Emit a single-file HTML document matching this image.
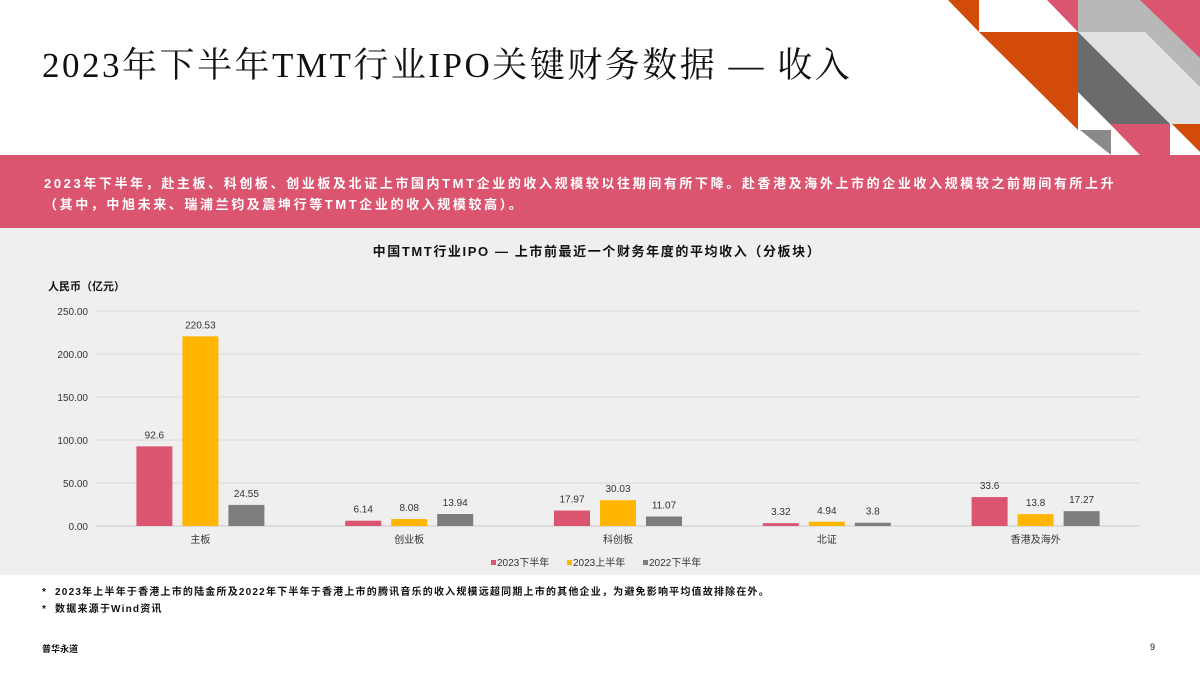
<!DOCTYPE html>
<html><head><meta charset="utf-8"><style>
body{margin:0;width:1200px;height:675px;overflow:hidden;background:#fff;font-family:"Liberation Sans","Noto Sans CJK SC",sans-serif;position:relative}
.abs{position:absolute}
</style></head><body>
<svg class="abs" style="left:0;top:0" width="1200" height="160">
<polygon points="948,0 979,0 979,32" fill="#d24b08"/>
<polygon points="979,32 1078,32 1078,130" fill="#d24b08"/>
<polygon points="1047,0 1078,0 1078,32" fill="#dc5570"/>
<polygon points="1078,0 1145,0 1200,55 1200,124 1170,124 1078,32" fill="#b8b8b8"/>
<polygon points="1078,32 1145,32 1200,87 1200,124 1170,124 1078,40" fill="#e2e2e2"/>
<polygon points="1078,32 1078,92 1110,124 1170,124" fill="#6b6b6b"/>
<polygon points="1140,0 1200,0 1200,58" fill="#dc5570"/>
<polygon points="1110,124 1170,124 1170,155 1140,155" fill="#dc5570"/>
<polygon points="1080,130 1111,130 1111,155" fill="#8a8a8a"/>
<polygon points="1172,124 1200,124 1200,152" fill="#d24b08"/>
</svg>
<div class="abs" style="left:42px;top:38px;font-size:35px;letter-spacing:2.5px;font-family:'Liberation Serif','Noto Serif CJK SC',serif;color:#111;white-space:nowrap">2023年下半年TMT行业IPO关键财务数据 — 收入</div>
<div class="abs" style="left:0;top:155px;width:1200px;height:73px;background:#dc5570;color:#fff;font-size:13px;font-weight:bold;letter-spacing:2.6px;line-height:21px;box-sizing:border-box;padding:18px 0 0 44px;white-space:nowrap">2023年下半年，赴主板、科创板、创业板及北证上市国内TMT企业的收入规模较以往期间有所下降。赴香港及海外上市的企业收入规模较之前期间有所上升<br>（其中，中旭未来、瑞浦兰钧及震坤行等TMT企业的收入规模较高）。</div>
<svg class="abs" style="left:0;top:228px" width="1200" height="347" id="chart"></svg>
<div class="abs" style="left:42px;top:584px;font-size:10px;font-weight:bold;letter-spacing:1.2px;line-height:17px;color:#111;white-space:nowrap">* &nbsp;2023年上半年于香港上市的陆金所及2022年下半年于香港上市的腾讯音乐的收入规模远超同期上市的其他企业，为避免影响平均值故排除在外。<br>* &nbsp;数据来源于Wind资讯</div>
<div class="abs" style="left:42px;top:642px;font-size:9px;font-weight:bold;color:#111">普华永道</div>
<div class="abs" style="left:1150px;top:642px;font-size:9px;color:#111">9</div>
<script>
const categories=["主板","创业板","科创板","北证","香港及海外"];
const seriesNames=["2023下半年","2023上半年","2022下半年"];
const s2023H2=[92.6,6.14,17.97,3.32,33.6];
const s2023H1=[220.53,8.08,30.03,4.94,13.8];
const s2022H2=[24.55,13.94,11.07,3.8,17.27];
const valueLabels=[["92.6","6.14","17.97","3.32","33.6"],["220.53","8.08","30.03","4.94","13.8"],["24.55","13.94","11.07","3.8","17.27"]];
const yTicks=[0,50,100,150,200,250];
const yTickLabels=["0.00","50.00","100.00","150.00","200.00","250.00"];
const colors=["#dc5570","#ffb600","#7d7d7d"];
const NS="http://www.w3.org/2000/svg";
const svg=document.getElementById('chart');
const x0=96,x1=1140,yBase=298,yTop=83,maxV=250;
const y=v=>yBase-(v/maxV)*(yBase-yTop);
const band=(x1-x0)/categories.length;
const xc=i=>x0+band*(i+0.5);
function mk(t,a,txt){const e=document.createElementNS(NS,t);for(const k in a)e.setAttribute(k,a[k]);if(txt!=null)e.textContent=txt;svg.appendChild(e);return e;}
let e=mk('rect',{x:0,y:0,width:1200,height:347,fill:'#efefef'});

e=mk('text',{x:597,y:28,'text-anchor':'middle','font-size':13,'font-weight':'bold','letter-spacing':'1.6',fill:'#111'},'中国TMT行业IPO — 上市前最近一个财务年度的平均收入（分板块）');

e=mk('text',{x:48,y:62,'font-size':11,'font-weight':'bold',fill:'#111'},'人民币（亿元）');

yTicks.forEach((t,i)=>{
 e=mk('line',{x1:x0,x2:x1,y1:y(t),y2:y(t),stroke:i==0?'#c8c8c8':'#dadada','stroke-width':1});
 
 e=mk('text',{x:88,y:y(t)+4,'text-anchor':'end','font-size':10,fill:'#333'},yTickLabels[i]);
 
});
const series=[s2023H2,s2023H1,s2022H2];
categories.forEach((c,i)=>{
 series.forEach((s,j)=>{
  const cx=xc(i)+(j-1)*46;
  e=mk('rect',{x:cx-18,y:y(s[i]),width:36,height:yBase-y(s[i]),fill:colors[j]});
  
  e=mk('text',{x:cx,y:y(s[i])-8,'text-anchor':'middle','font-size':10,fill:'#333'},valueLabels[j][i]);
  
 });
 e=mk('text',{x:xc(i),y:yBase+17,'text-anchor':'middle','font-size':10,fill:'#333'},c);
 
});
const lx=[491,567,643];
seriesNames.forEach((n,j)=>{
 e=mk('rect',{x:lx[j],y:332,width:5,height:5,fill:colors[j]});
 
 e=mk('text',{x:lx[j]+6,y:338,'font-size':10,fill:'#333'},n);
 
});
</script>
</body></html>
